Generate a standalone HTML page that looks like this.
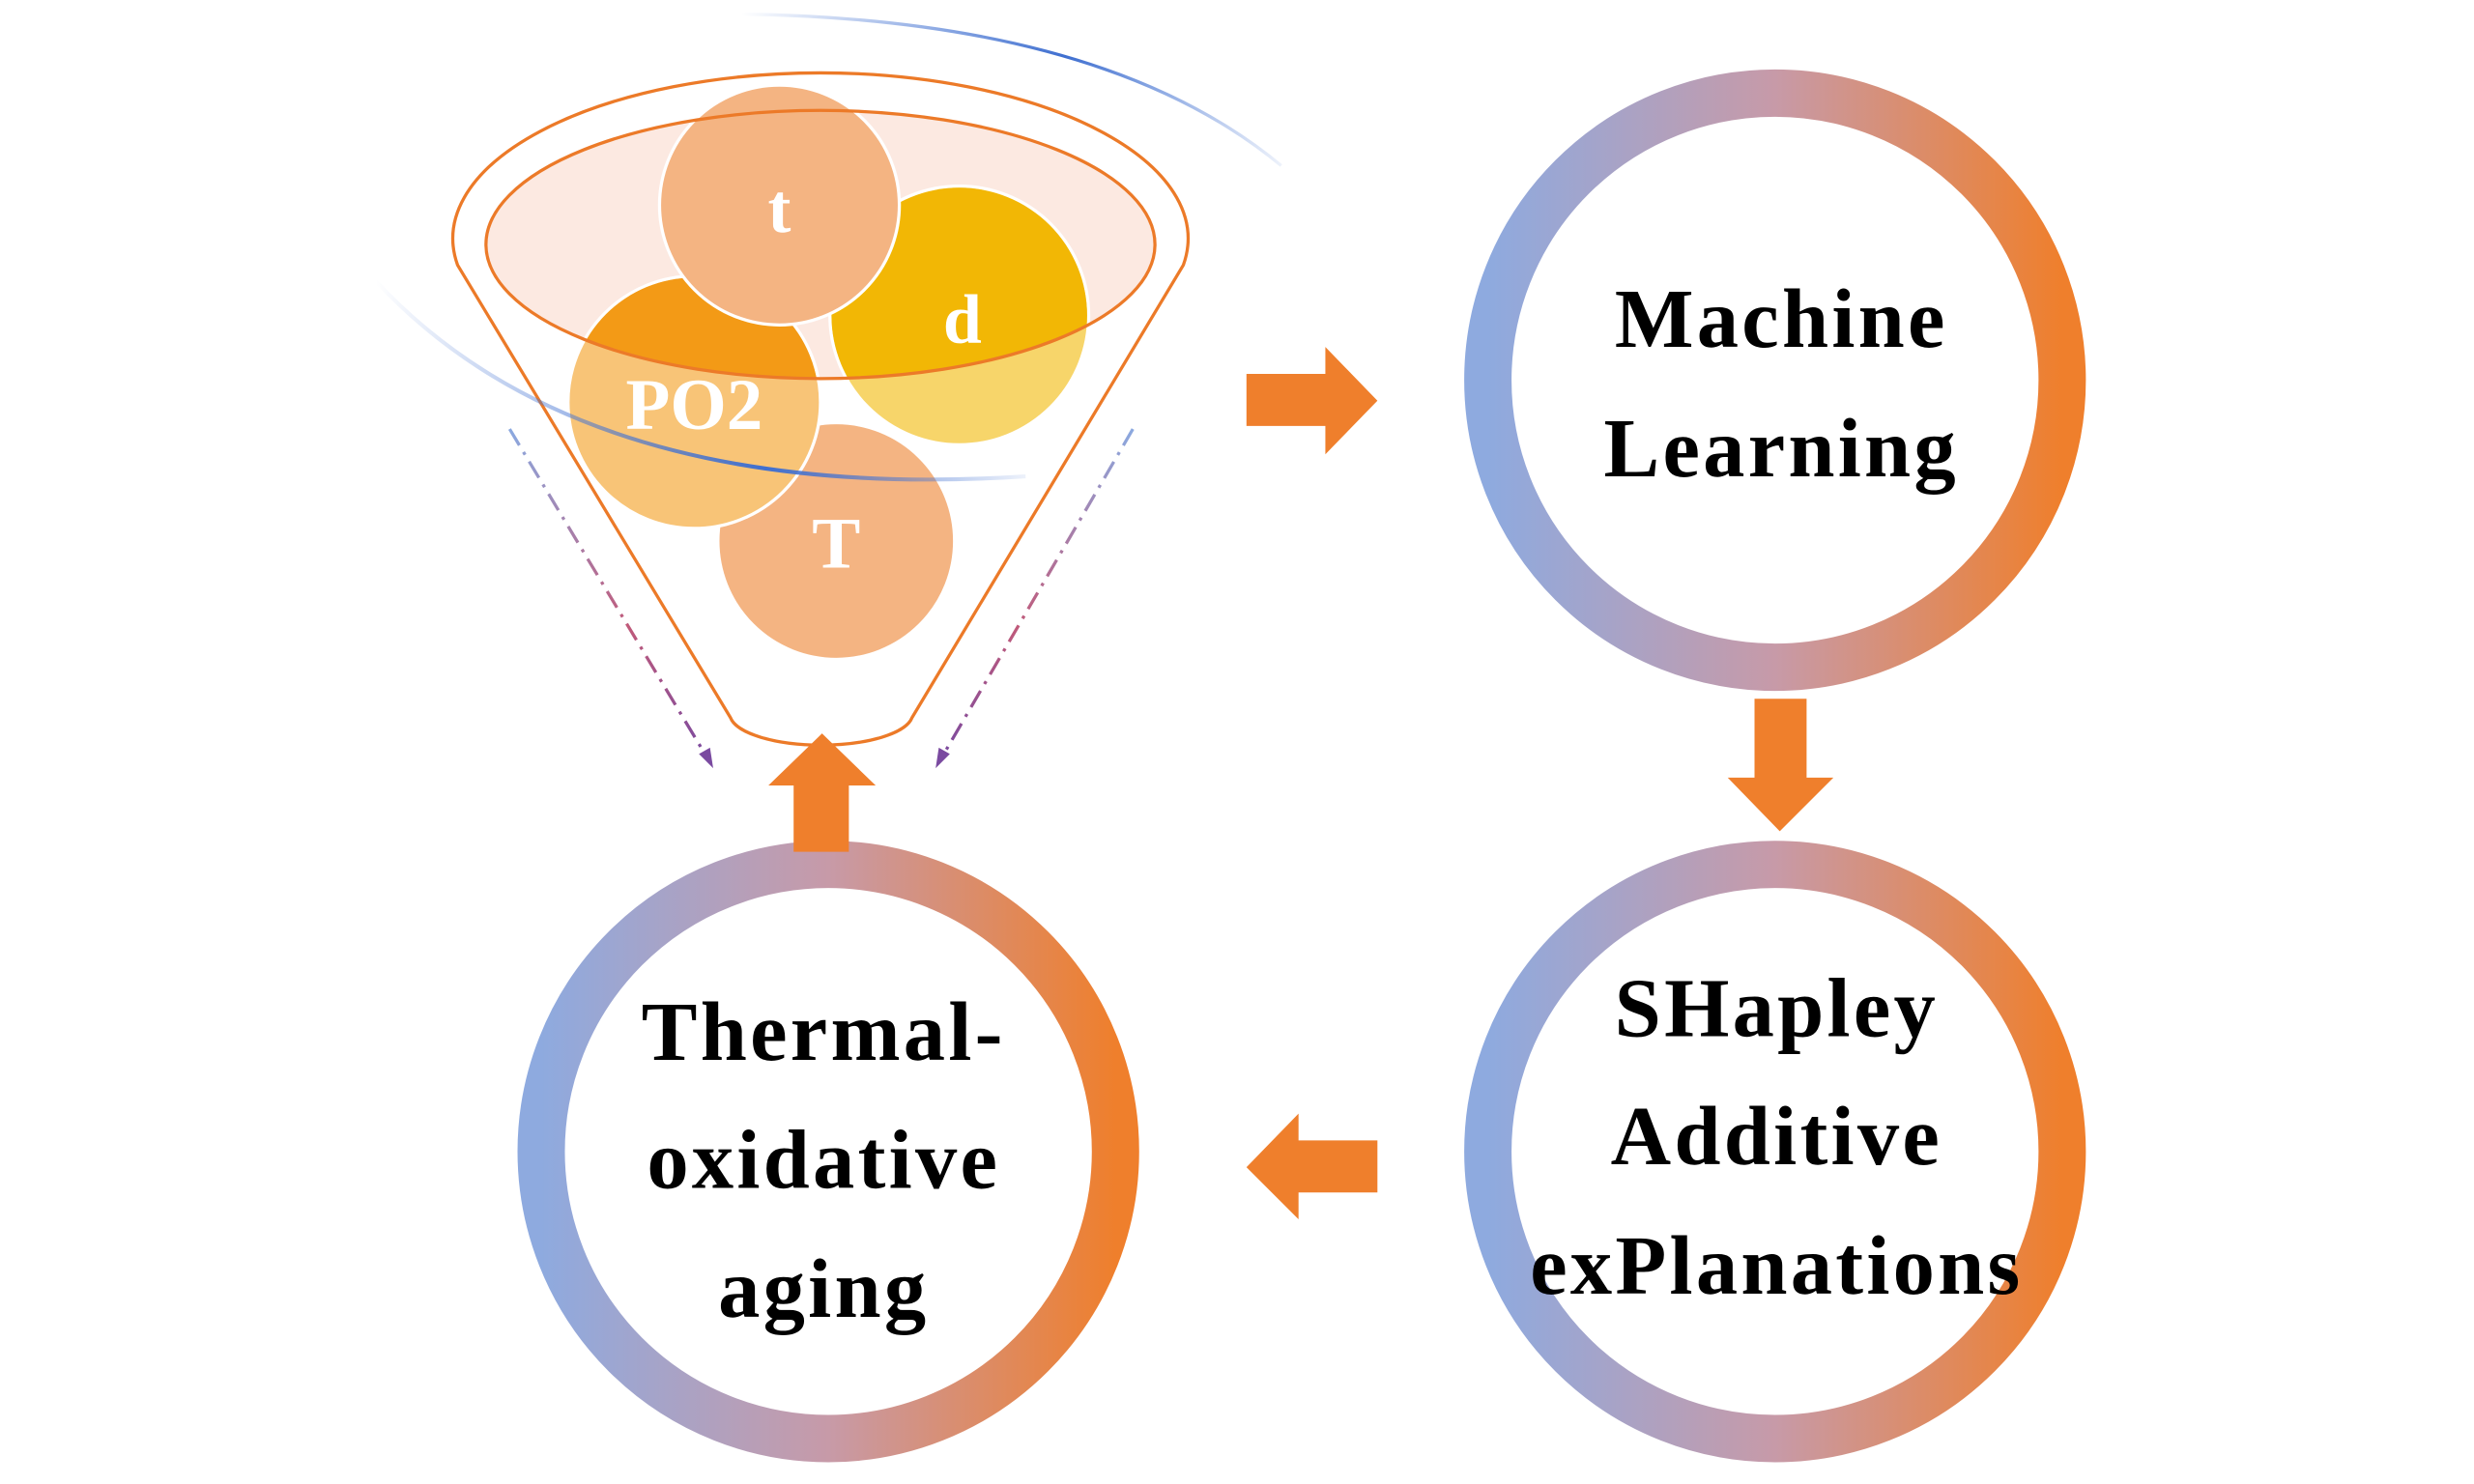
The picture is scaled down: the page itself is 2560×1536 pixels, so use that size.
<!DOCTYPE html>
<html><head><meta charset="utf-8"><style>html,body{margin:0;padding:0;background:#fff}svg{display:block}</style></head>
<body>
<svg width="2560" height="1536" viewBox="0 0 1568 940.8" xmlns="http://www.w3.org/2000/svg" font-family="'Liberation Serif', serif" font-weight="bold">
<defs>
<linearGradient id="ring" x1="0" y1="0" x2="1" y2="0">
<stop offset="0" stop-color="#8eaadf"/><stop offset="0.5" stop-color="#c79aa8"/><stop offset="1" stop-color="#ef7f2c"/>
</linearGradient>
<linearGradient id="blu" x1="0" y1="0" x2="1" y2="0"><stop offset="0" stop-color="#4a78d4" stop-opacity="0"/><stop offset="0.6" stop-color="#3f6fd0"/><stop offset="1" stop-color="#4a78d4" stop-opacity="0.1"/></linearGradient>
<linearGradient id="dash" x1="0" y1="0" x2="0" y2="1"><stop offset="0" stop-color="#8ba9e0"/><stop offset="0.6" stop-color="#c05a7a"/><stop offset="1" stop-color="#7a4aa0"/></linearGradient>
<clipPath id="inner"><ellipse cx="520" cy="155" rx="212" ry="85"/></clipPath>
</defs>

<path d="M470 9 Q700 12 812 105" fill="none" stroke="url(#blu)" stroke-width="2"/>

<ellipse cx="520" cy="155" rx="212" ry="85" fill="#fce9e1"/>
<path d="M290 168 A233 105 0 1 1 750 168 L578 455 A58 20 0 0 1 463 455 Z" fill="none" stroke="#ec7a28" stroke-width="2"/>

<circle cx="530" cy="343" r="75" fill="#f4b482" stroke="#fff" stroke-width="2"/>
<circle cx="608" cy="200" r="82" fill="#f7d56a" stroke="#fff" stroke-width="2"/>
<circle cx="608" cy="200" r="81" fill="#f2b705" clip-path="url(#inner)"/>
<circle cx="440" cy="255" r="80" fill="#f8c477" stroke="#fff" stroke-width="2"/>
<circle cx="440" cy="255" r="79" fill="#f39a16" clip-path="url(#inner)"/>
<circle cx="494" cy="130" r="76" fill="#f4b482" stroke="#fff" stroke-width="2"/>
<ellipse cx="520" cy="155" rx="212" ry="85" fill="none" stroke="#ec7a28" stroke-width="2"/>
<path d="M238 178 Q370 320 650 302" fill="none" stroke="url(#blu)" stroke-width="2.5"/>

<g fill="#fff" text-anchor="middle">
<text x="494" y="147" font-size="44">t</text>
<text x="610" y="217" font-size="44">d</text>
<text x="440" y="272" font-size="46">PO2</text>
<text x="530" y="360" font-size="46">T</text>
</g>

<line x1="323" y1="272" x2="448" y2="480" stroke="url(#dash)" stroke-width="2" stroke-dasharray="12 5 2 5"/>
<polygon points="452,487 443,478 450,474" fill="#7a4aa0"/>
<line x1="718" y1="272" x2="597" y2="480" stroke="url(#dash)" stroke-width="2" stroke-dasharray="12 5 2 5"/>
<polygon points="593,487 595,474 602,478" fill="#7a4aa0"/>

<g fill="#fff" stroke="url(#ring)" stroke-width="30">
<circle cx="1125" cy="241" r="182"/>
<circle cx="1125" cy="730" r="182"/>
<circle cx="525" cy="730" r="182"/>
</g>

<g fill="#ef7f2c">
<polygon points="790,237 840,237 840,220 873,254 840,288 840,270 790,270"/>
<polygon points="1112,443 1145,443 1145,493 1162,493 1128,527 1095,493 1112,493"/>
<polygon points="873,723 823,723 823,706 790,740 823,773 823,756 873,756"/>
<polygon points="503,540 538,540 538,498 555,498 521,465 487,498 503,498"/>
</g>

<g fill="#000" text-anchor="middle" font-size="53" letter-spacing="2">
<text x="1129" y="220">Machine</text>
<text x="1129" y="302">Learning</text>
<text x="1126" y="657">SHapley</text>
<text x="1126" y="738">Additive</text>
<text x="1126" y="820">exPlanations</text>
<text x="522" y="672">Thermal-</text>
<text x="522" y="753">oxidative</text>
<text x="522" y="835">aging</text>
</g>
</svg>
</body></html>
